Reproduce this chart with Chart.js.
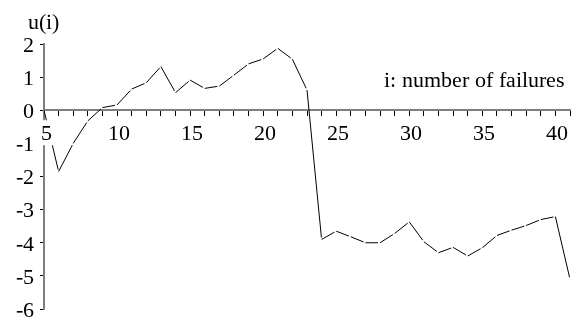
<!DOCTYPE html>
<html lang="en">
<head>
    <meta charset="UTF-8">
    <title>u(i) vs number of failures</title>
    <style>
        @font-face {
            font-family: 'RefSerif';
            src: local('Liberation Serif'), local('LiberationSerif'), local('Liberation Serif Regular'),
                 local('Times New Roman'), local('TimesNewRomanPSMT'), local('Tinos'), local('Tinos-Regular'),
                 local('Nimbus Roman'), local('NimbusRoman-Regular'), local('FreeSerif'),
                 local('Noto Serif'), local('NotoSerif-Regular'), local('DejaVu Serif'), local('DejaVuSerif');
        }
        html, body { margin: 0; padding: 0; background: #fff; }
        .wrap { width: 582px; height: 320px; }
    </style>
    <script src="https://cdn.jsdelivr.net/npm/chart.js@4.4.1/dist/chart.umd.min.js"></script>
</head>
<body>
    <div class="wrap"><canvas id="chart" width="582" height="320"></canvas></div>

    <script>
        // i: number of failures
        const failures = [5, 6, 7, 8, 9, 10, 11, 12, 13, 14, 15, 16, 17, 18, 19, 20, 21, 22, 23,
                          24, 25, 26, 27, 28, 29, 30, 31, 32, 33, 34, 35, 36, 37, 38, 39, 40, 41];
        // u(i)
        const u = [0, -1.85, -1.0, -0.32, 0.08, 0.16, 0.64, 0.83, 1.32, 0.53, 0.91, 0.66, 0.73,
                   1.06, 1.40, 1.55, 1.87, 1.54, 0.61, -3.90, -3.65, -3.82, -4.0, -4.0, -3.72,
                   -3.37, -3.97, -4.30, -4.14, -4.40, -4.15, -3.78, -3.62, -3.48, -3.30, -3.21, -5.10];
        const xTickLabels = [5, 10, 15, 20, 25, 30, 35, 40];
        const yTickLabels = [-6, -5, -4, -3, -2, -1, 0, 1, 2];

        const serif = "RefSerif, 'Liberation Serif', 'DejaVu Serif', serif";
        const fontSize = 22;
        const axisGray = '#7f7f7f';

        // axis caption texts
        const captions = {
            id: 'captions',
            afterDraw(chart) {
                const ctx = chart.ctx;
                ctx.save();
                ctx.fillStyle = '#000';
                ctx.font = fontSize + 'px ' + serif;
                ctx.textBaseline = 'alphabetic';
                ctx.textAlign = 'left';
                ctx.fillText('u(i)', 28, 29);
                ctx.textAlign = 'right';
                ctx.fillText('i: number of failures', 565, 87);
                ctx.restore();
            }
        };

        function drawChart() {
            new Chart(document.getElementById('chart'), {
                type: 'line',
                data: {
                    datasets: [{
                        data: failures.map((f, k) => ({ x: f, y: u[k] })),
                        borderColor: '#000',
                        borderWidth: 1,
                        pointRadius: 0,
                        tension: 0,
                        segment: {
                            // each segment ends in a tiny gap, like the original plot
                            borderDash: c => {
                                const len = Math.hypot(c.p1.x - c.p0.x, c.p1.y - c.p0.y);
                                return [Math.max(len - 2, 1), 2];
                            }
                        }
                    }]
                },
                options: {
                    responsive: false,
                    animation: false,
                    layout: { padding: { left: 0, right: 12, top: 44, bottom: 11 } },
                    plugins: {
                        legend: { display: false },
                        tooltip: { enabled: false }
                    },
                    scales: {
                        x: {
                            type: 'linear',
                            position: { y: 0 },
                            min: 5,
                            max: 41,
                            afterFit: s => { s.height = 0; s.paddingLeft = 0; s.paddingRight = 0; },
                            grid: { drawOnChartArea: false, color: '#000', lineWidth: 1, tickLength: 5 },
                            border: { display: true, color: axisGray, width: 2 },
                            ticks: {
                                stepSize: 1,
                                autoSkip: false,
                                maxRotation: 0,
                                padding: 8,
                                labelOffset: 2,
                                z: 1,
                                // white box behind the numbered labels only
                                showLabelBackdrop: c => xTickLabels.includes(c.tick.value),
                                backdropColor: '#fff',
                                backdropPadding: { top: 3, bottom: 0, left: 3, right: 3 },
                                color: '#000',
                                font: { family: serif, size: fontSize, lineHeight: 1 },
                                callback: v => xTickLabels.includes(v) ? String(v) : ''
                            }
                        },
                        y: {
                            type: 'linear',
                            position: 'left',
                            min: -6,
                            max: 2,
                            afterFit: s => { s.width = 44; s.paddingTop = 0; s.paddingBottom = 0; },
                            grid: { drawOnChartArea: false, color: '#000', lineWidth: 1, tickLength: 4 },
                            border: { display: true, color: axisGray, width: 2 },
                            ticks: {
                                stepSize: 1,
                                padding: 6,
                                labelOffset: 2,
                                color: '#000',
                                font: { family: serif, size: fontSize, lineHeight: 1 },
                                callback: v => yTickLabels.includes(v) ? String(v) : ''
                            }
                        }
                    }
                },
                plugins: [captions]
            });
        }

        if (document.fonts && document.fonts.load) {
            document.fonts.load(fontSize + 'px RefSerif').catch(() => {}).then(drawChart);
        } else {
            drawChart();
        }
    </script>
</body>
</html>
